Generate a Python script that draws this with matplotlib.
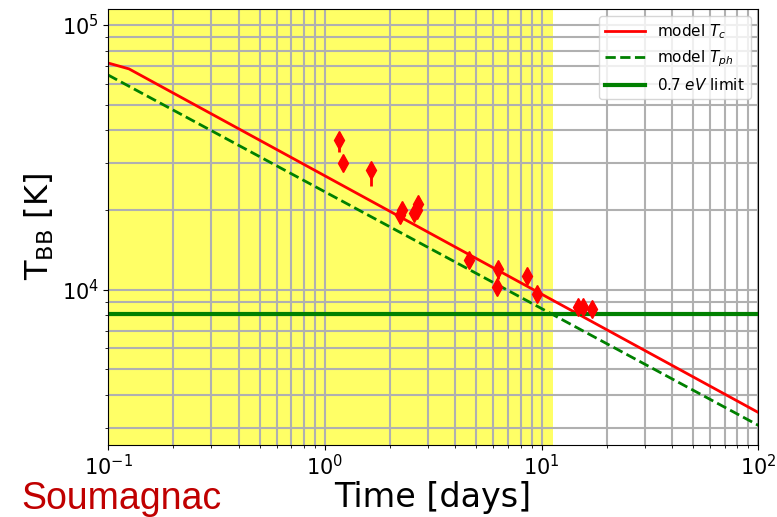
import numpy as np
import matplotlib as mpl
mpl.use('Agg')
import matplotlib.pyplot as plt

# blackbody temperature measurements
t_obs = [1.16, 1.21, 1.64, 2.23, 2.28, 2.58, 2.65, 2.70, 4.63, 6.30, 6.25, 8.58, 9.54, 14.75, 15.56, 17.1]
T_obs = [36700, 30100, 28300, 19100, 20000, 19500, 20000, 21000, 13000, 11950, 10250, 11250, 9600, 8590, 8590, 8450]
T_err_lo = [3500, 1500, 3700, 1200, 1200, 1000, 1000, 1200, 600, 1000, 500, 500, 400, 400, 400, 400]
T_err_hi = [1500, 1500, 1000, 800, 800, 900, 900, 900, 500, 600, 500, 500, 400, 300, 300, 300]

# model curves (shock cooling)
t_model = [0.1, 0.125, 100.0]
Tc_model = [71800, 68200, 3440]
t_ph_model = [0.1, 100.0]
Tph_model = [64700, 3076]

T_limit = 0.7 / 8.617e-5  # 0.7 eV in K
t_valid = 11.3

fig = plt.figure(figsize=(7.77, 5.17), dpi=100)
ax = fig.add_axes([0.139, 0.139, 0.837, 0.844])

ax.axvspan(0.1, t_valid, color='yellow', alpha=0.6, lw=0)
ax.plot(t_model, Tc_model, '-', color='red', lw=2, label=r'model $T_c$')
ax.plot(t_ph_model, Tph_model, '--', color='green', lw=2, label=r'model $T_{ph}$')
ax.axhline(T_limit, color='green', lw=3, label=r'0.7 $eV$ limit')
ax.errorbar(t_obs, T_obs, yerr=[T_err_lo, T_err_hi], fmt='d', color='red',
            ms=9, elinewidth=2, capsize=0, zorder=5)

ax.set_xscale('log')
ax.set_yscale('log')
ax.set_xlim(0.1, 100)
ax.set_ylim(2590, 1.15e5)
ax.grid(True, which='both', color='#b0b0b0', lw=1.5)
ax.tick_params(labelsize=15, pad=3)
ax.set_xlabel('Time [days]', fontsize=24, labelpad=1)
ax.set_ylabel(r'T$_{\rm BB}$ [K]', fontsize=23)
ax.legend(loc='upper right', fontsize=11, handlelength=2.6)

fig.text(0.028, 0.015, 'Soumagnac', color='#c00000', fontsize=27,
         family='Liberation Sans')

plt.savefig('out.png', dpi=100)
